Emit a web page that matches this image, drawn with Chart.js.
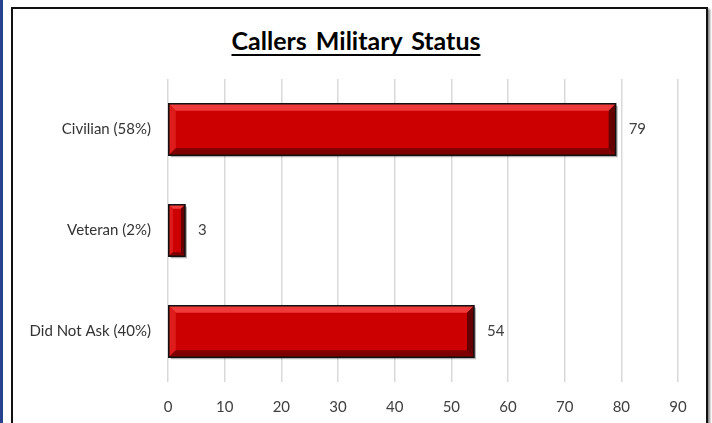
<!DOCTYPE html>
<html lang="en">
<head>
  <meta charset="UTF-8" />
  <title>Callers Military Status</title>
  <script src="https://cdn.jsdelivr.net/npm/chart.js"></script>
  <style>
    body { margin: 0; background: #fff; font-family: Lato, Arial, sans-serif; }
    #wrap { position: relative; width: 712px; height: 423px; overflow: hidden; }
    #edge { position: absolute; left: 0; top: 0; width: 3px; height: 423px; background: #27438f; }
    #frame { position: absolute; left: 11px; top: 7px; width: 693px; height: 430px;
             border: 2px solid #111; box-shadow: 2px 2px 2px #888; background: #fff; }
    #title { position: absolute; left: 0; width: 712px; top: 25px; text-align: center;
             font: bold 25px Lato, Arial, sans-serif; color: #000; text-decoration: underline;
             word-spacing: 3px; text-underline-offset: 4px; text-decoration-thickness: 2px; }
    canvas { position: absolute; left: 0; top: 0; }
  </style>
</head>
<body>
  <div id="wrap">
    <div id="edge"></div>
    <div id="frame"></div>
    <div id="title">Callers Military Status</div>
    <canvas id="statusChart" width="712" height="423"></canvas>
  </div>

  <script>
    const categories = ['Civilian (58%)', 'Veteran (2%)', 'Did Not Ask (40%)'];
    const callers = [79, 3, 54];
    const xTicks = [0, 10, 20, 30, 40, 50, 60, 70, 80, 90];

    // bevel + shadow look of the old excel bars, drawn on the bar elements
    const bevelBars = {
      id: 'bevelBars',
      beforeDatasetsDraw(chart) {
        const ctx = chart.ctx;
        chart.getDatasetMeta(0).data.forEach(bar => {
          const l = Math.min(bar.base, bar.x), r = Math.max(bar.base, bar.x);
          const t = bar.y - bar.height / 2, b = bar.y + bar.height / 2;
          ctx.save();
          ctx.fillStyle = 'rgba(0,0,0,0.3)';
          ctx.fillRect(l + 2, t + 2, r - l, b - t);
          ctx.restore();
        });
      },
      afterDatasetsDraw(chart) {
        const ctx = chart.ctx;
        chart.getDatasetMeta(0).data.forEach((bar, i) => {
          const l = Math.min(bar.base, bar.x), r = Math.max(bar.base, bar.x);
          const t = bar.y - bar.height / 2, b = bar.y + bar.height / 2;
          const bw = Math.min(7, (r - l) / 4);
          const poly = (pts, col) => {
            ctx.beginPath();
            ctx.moveTo(pts[0][0], pts[0][1]);
            pts.slice(1).forEach(p => ctx.lineTo(p[0], p[1]));
            ctx.closePath();
            ctx.fillStyle = col;
            ctx.fill();
          };
          ctx.save();
          poly([[l, t], [r, t], [r - bw, t + bw], [l + bw, t + bw]], '#ee3a3a');
          poly([[l, t], [l + bw, t + bw], [l + bw, b - bw], [l, b]], '#de1c1c');
          poly([[l, b], [l + bw, b - bw], [r - bw, b - bw], [r, b]], '#7e0000');
          poly([[r, t], [r, b], [r - bw, b - bw], [r - bw, t + bw]], '#640000');
          ctx.strokeStyle = '#111';
          ctx.lineWidth = 1.5;
          ctx.strokeRect(l, t, r - l, b - t);
          // value label
          ctx.fillStyle = '#404040';
          ctx.font = '15px Lato, Arial, sans-serif';
          ctx.textAlign = 'left';
          ctx.textBaseline = 'middle';
          ctx.fillText(String(callers[i]), r + 13, bar.y);
          ctx.restore();
        });
      }
    };

    new Chart(document.getElementById('statusChart'), {
      type: 'bar',
      data: {
        labels: categories,
        datasets: [{
          data: callers,
          backgroundColor: '#cc0000',
          borderWidth: 0,
          barPercentage: 0.6,
          categoryPercentage: 0.85
        }]
      },
      options: {
        indexAxis: 'y',
        responsive: false,
        animation: false,
        layout: { padding: { top: 79, right: 34, bottom: 0, left: 0 } },
        plugins: { legend: { display: false }, tooltip: { enabled: false } },
        scales: {
          x: {
            min: 0, max: 90,
            afterBuildTicks: s => { s.ticks = xTicks.map(v => ({ value: v })); },
            afterFit: s => { s.height = 41; },
            grid: { color: '#d9d9d9', lineWidth: 1.5, drawTicks: false },
            border: { display: false },
            ticks: { color: '#404040', padding: 16, font: { family: 'Lato', size: 15 } }
          },
          y: {
            afterFit: s => { s.width = 168; },
            grid: { display: false },
            border: { display: false },
            ticks: { color: '#333', padding: 9, font: { family: 'Lato', size: 15 } }
          }
        }
      },
      plugins: [bevelBars]
    });
  </script>
</body>
</html>
